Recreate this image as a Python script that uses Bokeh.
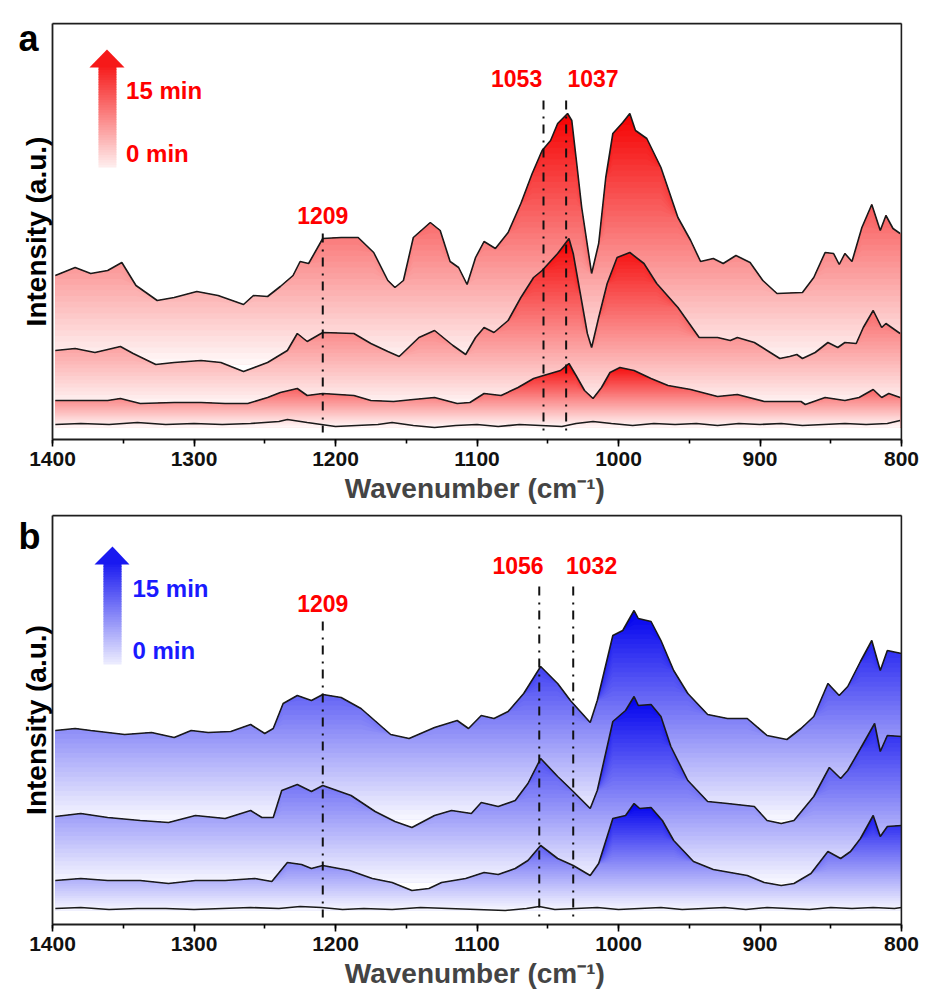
import numpy as np
from bokeh.plotting import figure
from bokeh.models import Range1d, SingleIntervalTicker
from bokeh.layouts import column
from bokeh.core.properties import value
from bokeh.embed import file_html
from bokeh.resources import INLINE

FONT = "Liberation Sans"

# ---------------- Panel a data (red) ----------------
a1_wn = [1398,1384,1373,1361,1351,1341,1326,1314,1298,1283,1265,1258,1248,1239,1230,1225,1219,1209,1196,1184,1173,1163,1158,1152,1145,1133,1126,1119,1113,1107,1101,1095,1087,1078,1069,1061,1054,1048,1043,1036,1033,1030,1026,1019,1014,1009,1004,997,992,988,980,970,958,949,942,933,926,917,907,898,888,870,862,854,848,844,840,835,828,821,815,811,806,801]
a1_int = [164,172,166,169,177,154,139,142,148,144,135,144,143,153,164,178,176,201,202,202,187,159,152,159,202,217,209,178,172,155,182,198,191,207,236,266,289,299,316,326,319,282,232,166,196,262,306,317,326,309,301,272,222,199,178,181,176,184,177,159,146,147,162,187,186,175,186,178,212,235,209,224,211,206]

a2_wn = [1398,1384,1370,1352,1343,1327,1314,1295,1281,1265,1248,1234,1227,1220,1209,1187,1175,1163,1155,1141,1130,1117,1108,1101,1095,1088,1078,1069,1060,1054,1043,1035,1032,1027,1022,1019,1014,1008,1001,992,982,973,958,943,930,921,916,904,895,886,879,874,870,861,852,845,840,832,827,820,814,811,801]
a2_int = [89,91,87,93,86,75,77,79,77,68,77,89,106,98,107,106,96,88,83,102,109,94,85,102,112,107,119,142,162,169,186,201,186,146,106,92,122,156,182,187,176,156,132,102,102,99,102,97,89,81,83,85,81,87,97,92,97,96,112,129,112,116,106]

a3_wn = [1398,1380,1361,1352,1338,1314,1295,1278,1262,1248,1239,1227,1220,1209,1187,1175,1159,1145,1130,1114,1105,1095,1083,1071,1060,1053,1041,1035,1030,1024,1018,1012,1006,999,989,977,965,949,930,916,897,871,868,854,840,830,820,814,809,801]
a3_int = [39,39,39,41,36,37,37,36,36,42,47,51,44,46,44,39,38,40,42,36,37,46,44,52,61,64,69,76,64,49,41,52,67,72,69,61,54,50,43,45,38,38,35,42,39,42,50,42,46,42]

a4_wn = [1398,1380,1360,1340,1320,1300,1280,1260,1240,1234,1220,1200,1185,1170,1160,1145,1130,1115,1100,1085,1070,1055,1040,1030,1018,1005,990,975,960,945,930,915,900,885,870,855,840,825,810,801]
a4_int = [15,16,15,17,15,16,15,16,18,20,17,13,14,15,17,14,12,14,15,13,15,14,13,16,18,16,14,16,15,16,14,16,15,16,14,15,16,15,16,19]

# ---------------- Panel b data (blue) ----------------
b1_wn = [1398,1384,1373,1349,1330,1314,1302,1290,1274,1260,1250,1244,1237,1227,1217,1209,1196,1182,1161,1148,1130,1114,1106,1097,1088,1078,1067,1055,1043,1034,1020,1015,1004,997,989,986,977,970,961,951,937,923,909,895,881,871,862,852,844,838,829,821,815,810,800]
b1_int = [194,196,194,190,192,187,194,192,193,200,191,196,221,229,224,230,227,216,190,186,197,204,196,209,206,213,231,258,241,224,202,224,289,294,314,306,303,284,254,231,210,206,206,189,185,196,208,241,229,238,263,284,254,274,271]

b2_wn = [1398,1380,1361,1338,1318,1299,1278,1260,1252,1244,1238,1227,1217,1209,1189,1172,1158,1146,1130,1118,1104,1097,1085,1073,1064,1055,1043,1032,1020,1015,1004,995,989,986,977,970,963,951,937,923,904,895,885,876,862,851,843,838,829,819,815,810,800]
b2_int = [108,111,107,104,102,109,106,114,107,107,134,140,133,139,129,113,103,97,109,114,111,122,118,124,141,166,148,133,116,134,203,214,228,219,220,208,178,144,123,121,118,104,101,104,128,157,146,154,176,201,173,189,188]

b3_wn = [1398,1380,1361,1338,1318,1299,1278,1257,1245,1234,1224,1217,1209,1190,1174,1160,1146,1134,1125,1108,1095,1085,1073,1064,1055,1043,1032,1020,1014,1004,995,989,985,977,969,961,947,933,909,897,885,876,864,852,843,836,829,820,815,810,800]
b3_int = [44,46,44,44,41,44,44,46,43,62,60,56,59,54,46,42,34,36,42,46,52,50,56,64,79,66,59,49,61,106,109,121,116,117,104,84,63,55,49,42,39,41,51,73,66,73,86,109,88,98,99]

b4_wn = [1398,1380,1360,1340,1320,1300,1280,1260,1240,1225,1210,1195,1180,1160,1140,1120,1100,1080,1065,1056,1045,1030,1015,1000,985,970,955,940,925,910,895,880,865,850,835,820,805,800]
b4_int = [16,17,15,16,16,15,16,17,16,18,17,15,16,15,17,16,15,14,16,18,15,16,17,15,16,17,15,16,17,15,17,16,15,17,16,17,16,17]

# Peak annotations
a_peaks = [1209, 1053, 1037]
a_peak_labels = ["1209", "1053", "1037"]
b_peaks = [1209, 1056, 1032]
b_peak_labels = ["1209", "1056", "1032"]

X_LO, X_HI = 800, 1400
PX = 849 / 600.0          # pixels per cm-1
LEFT_EXT = 52             # px of frame kept left of 1400 (for letter & y title)
RIGHT_EXT = 1

RED_TOP = (245, 0, 0)
RED_BOT = (255, 249, 249)
BLUE_TOP = (0, 0, 238)
BLUE_BOT = (248, 248, 255)


def hexcol(c):
    return "#%02x%02x%02x" % tuple(int(round(v)) for v in c)


def mix(c_bot, c_top, t):
    return tuple(b + (a - b) * t for a, b in zip(c_top, c_bot))


def grad_fill(p, wn, ys, base, top_rgb, bot_rgb, n=44):
    y = np.asarray(ys, float)
    x = np.asarray(wn, float)
    ymax = y.max()
    levels = base + (ymax - base) * np.arange(1, n + 1) / n
    b = np.full_like(y, base)
    for k in range(n - 1, -1, -1):
        lev = levels[k] if k < n - 1 else ymax + 1
        y2 = np.maximum(np.minimum(y, lev), base)
        t = (k + 0.5) / n
        p.varea(x=x, y1=b, y2=y2, fill_color=hexcol(mix(bot_rgb, top_rgb, t)), fill_alpha=1.0)


def make_panel(frame_h, border_top, label, curves, bases, top_rgb, bot_rgb,
               peaks, peak_labels, line_tops, label_x, label_y, txt_col, arrow, legend_x, legend_y,
               letter_y):
    ytop = frame_h  # 1 data unit = 1 px
    p = figure(frame_width=849 + LEFT_EXT + RIGHT_EXT, frame_height=frame_h + 1,
               min_border_left=0, min_border_right=24,
               min_border_top=border_top, min_border_bottom=0,
               output_backend="svg", toolbar_location=None,
               x_range=Range1d(X_HI + LEFT_EXT / PX, X_LO - RIGHT_EXT / PX),
               y_range=Range1d(0, ytop + 1))
    p.background_fill_color = "white"
    p.border_fill_color = "white"
    p.xgrid.visible = False
    p.ygrid.visible = False
    p.outline_line_color = None
    p.yaxis.visible = False

    # fills (upper curves first)
    for (wn, ys), base in zip(curves[:3], bases):
        grad_fill(p, wn, ys, base, top_rgb, bot_rgb)
    for wn, ys in curves:
        p.line(wn, ys, line_color="#1a1a1a", line_width=1.6)

    # dash-dot marker lines
    p.segment(x0=peaks, x1=peaks, y0=line_tops, y1=[7] * len(peaks),
              line_color="#111111", line_width=2, line_dash="9 7 2 6")
    p.text(x=label_x, y=label_y, text=peak_labels, text_color="#ff0000",
           text_font=value(FONT), text_font_style="bold", text_font_size=value("23px"),
           text_align="center", text_baseline="middle")

    # gradient arrow legend
    xl, xr, hl, hr, xt, ybot, ybase, ytip = arrow
    m = 40
    edges = np.linspace(ybot, ybase, m + 1)
    cols = [hexcol(mix(bot_rgb, top_rgb, 0.04 + 0.84 * (i + 0.5) / m)) for i in range(m)]
    p.quad(left=[xl] * m, right=[xr] * m, bottom=list(edges[:-1]),
           top=list(edges[1:] + (edges[1] - edges[0]) * 0.3), fill_color=cols, line_color=None)
    p.patch([hl, hr, xt], [ybase, ybase, ytip], fill_color=hexcol(mix(bot_rgb, top_rgb, 0.9)),
            line_color=None)
    p.text(x=[legend_x, legend_x], y=legend_y, text=["15 min", "0 min"], text_color=txt_col,
           text_font=value(FONT), text_font_style="bold", text_font_size=value("24px"),
           text_align="left", text_baseline="middle")

    # frame box (left, top, right edges; bottom is the x axis line)
    p.segment(x0=[X_HI, X_HI, X_LO], x1=[X_HI, X_LO, X_LO], y0=[0, ytop, ytop], y1=[ytop, ytop, 0],
              line_color="#1e1e1e", line_width=1.8)

    # y title and panel letter (inside the extended frame area)
    p.text(x=[X_HI + 16 / PX], y=[ytop / 2], text=["Intensity (a.u.)"], angle=np.pi / 2,
           text_color="black", text_font=value(FONT), text_font_style="bold",
           text_font_size=value("28px"), text_align="center", text_baseline="middle")
    p.text(x=[X_HI + 34 / PX], y=[letter_y], text=[label], text_color="black",
           text_font=value(FONT), text_font_style="bold", text_font_size=value("36px"),
           text_align="left", text_baseline="middle")

    # x axis
    ax = p.xaxis[0]
    ax.bounds = (X_LO, X_HI)
    ax.ticker = SingleIntervalTicker(interval=100, num_minor_ticks=2)
    ax.axis_label = "\u00a0" * 6 + "Wavenumber (cm\u207b\u00b9)"
    ax.axis_label_text_font = FONT
    ax.axis_label_text_font_style = "bold"
    ax.axis_label_text_font_size = "28px"
    ax.axis_label_standoff = 4
    ax.major_label_text_font = FONT
    ax.major_label_text_font_style = "bold"
    ax.major_label_text_font_size = "21px"
    ax.major_label_text_color = "#111111"
    ax.major_label_standoff = 5
    ax.major_tick_out = 7
    ax.major_tick_in = 0
    ax.minor_tick_out = 4
    ax.minor_tick_in = 0
    ax.axis_line_width = 1.8
    ax.major_tick_line_width = 1.6
    ax.minor_tick_line_width = 1.6
    ax.axis_line_color = "#1e1e1e"
    return p


pa = make_panel(416, 22, "a",
                [(a1_wn, a1_int), (a2_wn, a2_int), (a3_wn, a3_int), (a4_wn, a4_int)],
                [75, 33, 12], RED_TOP, RED_BOT,
                a_peaks, a_peak_labels, [206, 339, 339], [1209, 1072, 1018], [224, 361, 361],
                "#ff0000",
                (1367.5, 1354.8, 1373.9, 1349.1, 1361.5, 272, 372, 390), 1348, [349, 286], 401)

pb = make_panel(409, 8, "b",
                [(b1_wn, b1_int), (b2_wn, b2_int), (b3_wn, b3_int), (b4_wn, b4_int)],
                [105, 42, 14], BLUE_TOP, BLUE_BOT,
                b_peaks, b_peak_labels, [303, 338, 338], [1209, 1071, 1019], [321, 359, 359],
                "#1a1aff",
                (1364.0, 1351.2, 1370.3, 1345.6, 1357.6, 260, 360, 378), 1343.5, [336, 274], 388)

layout = column(pa, pb, spacing=0)
open("out.html", "w").write(file_html(layout, INLINE))
